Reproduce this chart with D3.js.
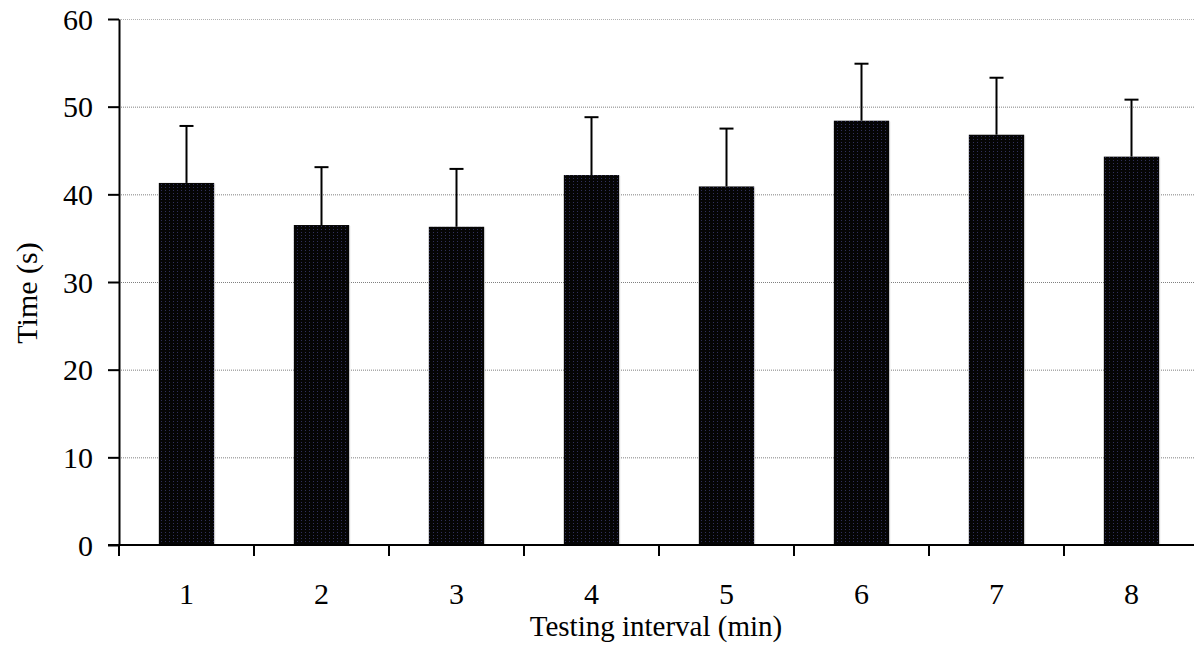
<!DOCTYPE html>
<html>
<head>
<meta charset="utf-8">
<script src="https://cdn.jsdelivr.net/npm/d3@7"></script>
<style>
  body { margin: 0; background: #fff; }
  svg { display: block; }
  text { font-family: "Liberation Serif", "Times New Roman", serif; fill: #000; }
</style>
</head>
<body>
<div id="chart"></div>
<script>
// data
var categories = ['1', '2', '3', '4', '5', '6', '7', '8'];
var means      = [41.3, 36.5, 36.3, 42.2, 40.9, 48.4, 46.8, 44.3];
var errors     = [6.5, 6.6, 6.6, 6.6, 6.6, 6.5, 6.5, 6.5];
var yTicks     = [0, 10, 20, 30, 40, 50, 60];

var width = 1194, height = 645;
var margin = { top: 19, right: -5, bottom: 100, left: 119 };

var svg = d3.select('#chart').append('svg')
	.attr('width', width)
	.attr('height', height);

// dotted black fill
var defs = svg.append('defs');
var pat = defs.append('pattern')
	.attr('id', 'dots')
	.attr('patternUnits', 'userSpaceOnUse')
	.attr('width', 4).attr('height', 3);
pat.append('rect').attr('width', 4).attr('height', 3).attr('fill', '#050505');
pat.append('rect').attr('x', 1).attr('y', 1).attr('width', 1).attr('height', 1).attr('fill', '#30305a');

var x = d3.scaleBand()
	.domain(categories)
	.range([margin.left, width - margin.right])
	.padding(0);

var y = d3.scaleLinear()
	.domain([0, 60])
	.range([height - margin.bottom, margin.top]);

var barW = x.bandwidth() * 0.41;

// gridlines
svg.append('g')
	.selectAll('line')
	.data(yTicks.filter(function (d) { return d > 0; }))
	.enter().append('line')
	.attr('x1', margin.left).attr('x2', width)
	.attr('y1', function (d) { return y(d) + 0.5; })
	.attr('y2', function (d) { return y(d) + 0.5; })
	.attr('stroke', function (d) { return d === 60 ? '#b0b0b0' : '#808080'; })
	.attr('stroke-width', 1)
	.attr('stroke-dasharray', '1,1');

// bars
var bars = svg.append('g');
bars.selectAll('rect.bar')
	.data(means)
	.enter().append('rect')
	.attr('class', 'bar')
	.attr('x', function (d, i) { return x(categories[i]) + (x.bandwidth() - barW) / 2; })
	.attr('y', function (d) { return y(d); })
	.attr('width', barW)
	.attr('height', function (d) { return y(0) - y(d); })
	.attr('fill', 'url(#dots)');
// thin light edge on the right side of each bar
bars.selectAll('line.edge')
	.data(means)
	.enter().append('line')
	.attr('class', 'edge')
	.attr('x1', function (d, i) { return x(categories[i]) + (x.bandwidth() + barW) / 2 + 0.5; })
	.attr('x2', function (d, i) { return x(categories[i]) + (x.bandwidth() + barW) / 2 + 0.5; })
	.attr('y1', function (d) { return y(d) + 1; })
	.attr('y2', y(0))
	.attr('stroke', '#c8c8c8')
	.attr('stroke-width', 1);

// error bars
var err = svg.append('g').attr('stroke', '#000').attr('stroke-width', 2);
err.selectAll('line.stem')
	.data(means)
	.enter().append('line')
	.attr('x1', function (d, i) { return x(categories[i]) + x.bandwidth() / 2; })
	.attr('x2', function (d, i) { return x(categories[i]) + x.bandwidth() / 2; })
	.attr('y1', function (d) { return y(d); })
	.attr('y2', function (d, i) { return y(d + errors[i]); });
err.selectAll('line.cap')
	.data(means)
	.enter().append('line')
	.attr('x1', function (d, i) { return x(categories[i]) + x.bandwidth() / 2 - 7; })
	.attr('x2', function (d, i) { return x(categories[i]) + x.bandwidth() / 2 + 7; })
	.attr('y1', function (d, i) { return y(d + errors[i]); })
	.attr('y2', function (d, i) { return y(d + errors[i]); });

// y axis
var yAxis = svg.append('g')
	.attr('transform', 'translate(' + margin.left + ',0)')
	.call(d3.axisLeft(y).tickValues(yTicks).tickSize(11).tickPadding(15).tickSizeOuter(0));
yAxis.select('.domain').attr('stroke-width', 2);
yAxis.selectAll('.tick line').attr('stroke-width', 2);
yAxis.selectAll('.tick text').style('font-size', '30px').attr('dy', '0.34em');

// x axis
var xAxis = svg.append('g')
	.attr('transform', 'translate(0,' + y(0) + ')');
xAxis.append('line')
	.attr('x1', margin.left - 11).attr('x2', width)
	.attr('stroke', '#000').attr('stroke-width', 2);
xAxis.selectAll('line.tick')
	.data(categories)
	.enter().append('line')
	.attr('class', 'tick')
	.attr('x1', function (d) { return x(d); })
	.attr('x2', function (d) { return x(d); })
	.attr('y1', 0).attr('y2', 11)
	.attr('stroke', '#000').attr('stroke-width', 2);
xAxis.selectAll('text')
	.data(categories)
	.enter().append('text')
	.attr('x', function (d) { return x(d) + x.bandwidth() / 2; })
	.attr('y', 59)
	.attr('text-anchor', 'middle')
	.style('font-size', '30px')
	.text(function (d) { return d; });

// axis titles
svg.append('text')
	.attr('x', 656).attr('y', 636)
	.attr('text-anchor', 'middle')
	.style('font-size', '29px')
	.text('Testing interval (min)');

svg.append('text')
	.attr('transform', 'translate(37,293) rotate(-90)')
	.attr('text-anchor', 'middle')
	.style('font-size', '30px')
	.text('Time (s)');
</script>
</body>
</html>
